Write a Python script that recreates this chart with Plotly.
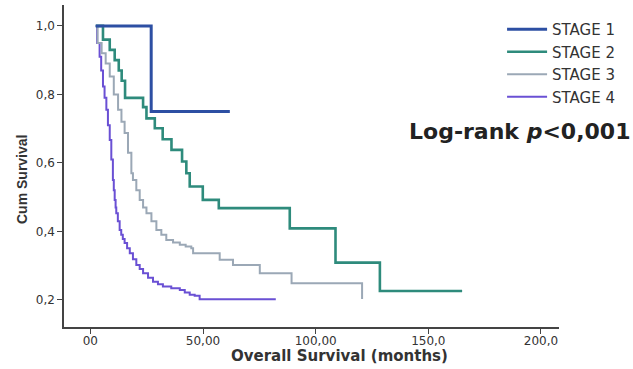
import plotly.graph_objects as go

# ---- data (months, cumulative survival) ----
stage1_t = [2.4, 27.0, 61.9]
stage1_s = [1.0, 0.75, 0.75]

stage2_t = [2.4, 5.6, 8.6, 10.8, 12.6, 13.9, 15.4, 23.4, 24.9, 28.6, 32.1, 36.0, 40.7, 42.6, 44.1, 49.9, 57.0, 88.5, 108.8, 128.5, 165.0]
stage2_s = [1.0, 0.96, 0.93, 0.90, 0.87, 0.84, 0.79, 0.763, 0.730, 0.701, 0.669, 0.638, 0.604, 0.570, 0.531, 0.492, 0.468, 0.409, 0.309, 0.226, 0.226]

stage3_t = [2.4, 3.2, 5.0, 6.8, 8.6, 10.4, 12.3, 13.8, 15.2, 16.7, 18.2, 18.9, 20.4, 21.9, 23.4, 24.9, 27.1, 29.3, 31.5, 33.7, 36.7, 39.7, 42.3, 44.8, 45.6, 57.4, 63.3, 75.2, 89.3, 120.6, 120.6]
stage3_s = [1.0, 0.95, 0.92, 0.89, 0.852, 0.80, 0.755, 0.72, 0.687, 0.63, 0.57, 0.55, 0.52, 0.492, 0.47, 0.453, 0.43, 0.404, 0.39, 0.375, 0.368, 0.361, 0.356, 0.351, 0.336, 0.317, 0.302, 0.278, 0.249, 0.249, 0.203]

stage4_t = [2.4, 3.0, 4.1, 4.8, 5.6, 6.3, 7.1, 7.8, 8.6, 9.3, 10.0, 10.4, 10.8, 11.2, 11.5, 12.2, 13.0, 13.7, 14.4, 15.2, 16.3, 17.5, 18.9, 20.4, 21.9, 23.4, 25.6, 27.8, 30.0, 32.2, 35.9, 39.7, 41.9, 44.1, 46.3, 48.5, 82.3]
stage4_s = [1.0, 0.95, 0.91, 0.87, 0.823, 0.79, 0.755, 0.71, 0.667, 0.61, 0.55, 0.52, 0.492, 0.47, 0.453, 0.43, 0.404, 0.39, 0.378, 0.366, 0.351, 0.336, 0.319, 0.302, 0.29, 0.278, 0.265, 0.253, 0.246, 0.239, 0.234, 0.229, 0.222, 0.215, 0.212, 0.202, 0.202]

series_names = ["STAGE 1", "STAGE 2", "STAGE 3", "STAGE 4"]
series_colors = ["#2D4FA3", "#2E8B7C", "#9BA8B6", "#6A50D4"]
series_widths = [3, 2.6, 2, 2]

x_tickvals = [0, 50, 100, 150, 200]
x_ticktext = ["00", "50,00", "100,00", "150,0", "200,0"]
y_tickvals = [0.2, 0.4, 0.6, 0.8, 1.0]
y_ticktext = ["0,2", "0,4", "0,6", "0,8", "1,0"]

fig = go.Figure()
data = [(stage1_t, stage1_s), (stage2_t, stage2_s), (stage3_t, stage3_s), (stage4_t, stage4_s)]
# draw in reverse so stage 1 is on top
for i in [3, 2, 1, 0]:
    t, s = data[i]
    fig.add_trace(go.Scatter(x=t, y=s, mode="lines", line_shape="hv",
                             name=series_names[i],
                             line=dict(color=series_colors[i], width=series_widths[i]),
                             legendrank=i + 1))

font_family = "DejaVu Sans, sans-serif"
fig.update_layout(
    width=633, height=369,
    margin=dict(l=64, r=74, t=5, b=42),
    paper_bgcolor="white", plot_bgcolor="white",
    font=dict(family=font_family, color="#333333"),
    showlegend=True,
    legend=dict(x=0.885, y=0.975, xanchor="left", yanchor="top",
                font=dict(size=15, color="#333333"), bgcolor="rgba(0,0,0,0)",
                itemwidth=40, tracegroupgap=0, traceorder="normal"),
    xaxis=dict(range=[-11.7, 208], tickvals=x_tickvals, ticktext=x_ticktext,
               showgrid=False, zeroline=False, showline=True, linecolor="#444444", linewidth=1.5,
               ticks="outside", ticklen=5, tickcolor="#444444", ticklabelstandoff=-3,
               tickfont=dict(size=12, color="#333333")),
    yaxis=dict(range=[0.121, 1.061], tickvals=y_tickvals, ticktext=y_ticktext,
               showgrid=False, zeroline=False, showline=True, linecolor="#444444", linewidth=1.5,
               ticks="outside", ticklen=5, tickcolor="#444444",
               tickfont=dict(size=12, color="#333333")),
    annotations=[
        dict(text="<b>Log-rank <i>p</i><0,001</b>", xref="paper", yref="paper",
             x=(632 - 64) / 495, y=(369 - 42 - 131) / 322, xanchor="right", yanchor="middle",
             showarrow=False, font=dict(size=22, color="#222222")),
        dict(text="<b>Overall Survival (months)</b>", xref="paper", yref="paper",
             x=(339 - 64) / 495, y=-(356 - 327) / 322, xanchor="center", yanchor="middle",
             showarrow=False, font=dict(size=15, color="#333333")),
        dict(text="<b>Cum Survival</b>", xref="paper", yref="paper",
             x=-(64 - 22) / 495, y=(369 - 42 - 180) / 322, xanchor="center", yanchor="middle",
             textangle=-90, showarrow=False,
             font=dict(family="Liberation Sans, Arial, sans-serif", size=14, color="#333333")),
    ],
)

fig.write_html("out.html", config={"displayModeBar": False},
               post_script="document.body.style.margin='0';")
